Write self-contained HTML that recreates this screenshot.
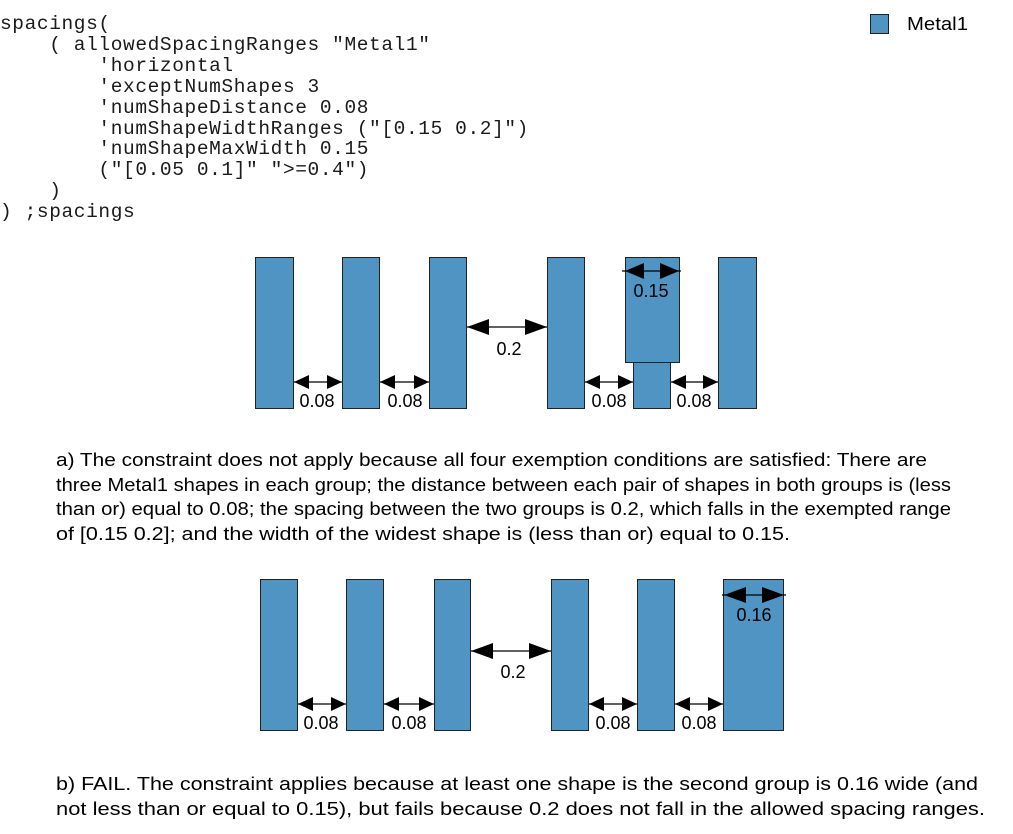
<!DOCTYPE html>
<html><head><meta charset="utf-8"><style>
html,body{margin:0;padding:0;background:#fff;}
svg{display:block;}
.m{font-family:"Liberation Mono",monospace;font-size:19.5px;letter-spacing:0.6px;fill:#1a1a1a;white-space:pre;}
.s{font-family:"Liberation Sans",sans-serif;font-size:18.5px;fill:#000;}
.l{font-family:"Liberation Sans",sans-serif;font-size:18px;fill:#000;text-anchor:middle;}
rect.b{fill:#4f94c2;stroke:#222;stroke-width:1;}
</style></head><body>
<svg width="1013" height="834" viewBox="0 0 1013 834" xmlns="http://www.w3.org/2000/svg">
<g class="m">
<text x="0" y="29" xml:space="preserve">spacings(</text>
<text x="0" y="50" xml:space="preserve">    ( allowedSpacingRanges "Metal1"</text>
<text x="0" y="71" xml:space="preserve">        'horizontal</text>
<text x="0" y="92" xml:space="preserve">        'exceptNumShapes 3</text>
<text x="0" y="113" xml:space="preserve">        'numShapeDistance 0.08</text>
<text x="0" y="134" xml:space="preserve">        'numShapeWidthRanges ("[0.15 0.2]")</text>
<text x="0" y="154" xml:space="preserve">        'numShapeMaxWidth 0.15</text>
<text x="0" y="175" xml:space="preserve">        ("[0.05 0.1]" "&gt;=0.4")</text>
<text x="0" y="196" xml:space="preserve">    )</text>
<text x="0" y="217" xml:space="preserve">) ;spacings</text>
</g>
<rect class="b" x="870.5" y="14.5" width="18" height="19"/>
<text class="s" x="907" y="30" textLength="61" lengthAdjust="spacingAndGlyphs">Metal1</text>

<!-- diagram a -->
<rect class="b" x="255.5" y="257.5" width="38" height="151"/>
<rect class="b" x="342.5" y="257.5" width="37" height="151"/>
<rect class="b" x="429.5" y="257.5" width="37" height="151"/>
<rect class="b" x="547.5" y="257.5" width="37" height="151"/>
<rect class="b" x="633.5" y="362.5" width="37" height="46"/>
<rect class="b" x="625.5" y="257.5" width="54" height="105"/>
<rect class="b" x="718.5" y="257.5" width="38" height="151"/>

<g stroke="#000" stroke-width="1.2">
<line x1="294" y1="382" x2="342" y2="382"/>
<line x1="380" y1="382" x2="429" y2="382"/>
<line x1="585" y1="382" x2="633" y2="382"/>
<line x1="671" y1="382" x2="718" y2="382"/>
<line x1="467" y1="327" x2="547" y2="327"/>
<line x1="622" y1="271" x2="681" y2="271"/>
</g>
<g fill="#000">
<polygon points="294,382 309,375 309,389"/><polygon points="342,382 327,375 327,389"/>
<polygon points="380,382 395,375 395,389"/><polygon points="429,382 414,375 414,389"/>
<polygon points="585,382 600,375 600,389"/><polygon points="633,382 618,375 618,389"/>
<polygon points="671,382 686,375 686,389"/><polygon points="718,382 703,375 703,389"/>
<polygon points="467,327 489,319 489,335"/><polygon points="547,327 525,319 525,335"/>
<polygon points="625,271 644,263 644,279"/><polygon points="679,271 660,263 660,279"/>
</g>
<text class="l" x="317" y="407">0.08</text>
<text class="l" x="405" y="407">0.08</text>
<text class="l" x="609" y="407">0.08</text>
<text class="l" x="694" y="407">0.08</text>
<text class="l" x="509" y="355">0.2</text>
<text class="l" x="651" y="297">0.15</text>

<text class="s" x="56" y="466" textLength="871" lengthAdjust="spacingAndGlyphs">a) The constraint does not apply because all four exemption conditions are satisfied: There are</text>
<text class="s" x="56" y="491" textLength="895" lengthAdjust="spacingAndGlyphs">three Metal1 shapes in each group; the distance between each pair of shapes in both groups is (less</text>
<text class="s" x="56" y="515" textLength="895" lengthAdjust="spacingAndGlyphs">than or) equal to 0.08; the spacing between the two groups is 0.2, which falls in the exempted range</text>
<text class="s" x="56" y="540" textLength="734" lengthAdjust="spacingAndGlyphs">of [0.15 0.2]; and the width of the widest shape is (less than or) equal to 0.15.</text>

<!-- diagram b -->
<rect class="b" x="260.5" y="579.5" width="37" height="151"/>
<rect class="b" x="346.5" y="579.5" width="37" height="151"/>
<rect class="b" x="434.5" y="579.5" width="36" height="151"/>
<rect class="b" x="551.5" y="579.5" width="37" height="151"/>
<rect class="b" x="637.5" y="579.5" width="37" height="151"/>
<rect class="b" x="723.5" y="579.5" width="60" height="151"/>
<g stroke="#000" stroke-width="1.2">
<line x1="298" y1="704" x2="346" y2="704"/>
<line x1="384" y1="704" x2="434" y2="704"/>
<line x1="589" y1="704" x2="637" y2="704"/>
<line x1="675" y1="704" x2="723" y2="704"/>
<line x1="471" y1="651" x2="551" y2="651"/>
<line x1="722" y1="595" x2="786" y2="595"/>
</g>
<g fill="#000">
<polygon points="298,704 313,697 313,711"/><polygon points="346,704 331,697 331,711"/>
<polygon points="384,704 399,697 399,711"/><polygon points="434,704 419,697 419,711"/>
<polygon points="589,704 604,697 604,711"/><polygon points="637,704 622,697 622,711"/>
<polygon points="675,704 690,697 690,711"/><polygon points="723,704 708,697 708,711"/>
<polygon points="471,651 493,643 493,659"/><polygon points="551,651 529,643 529,659"/>
<polygon points="724,595 746,587 746,603"/><polygon points="784,595 762,587 762,603"/>
</g>
<text class="l" x="321" y="729">0.08</text>
<text class="l" x="409" y="729">0.08</text>
<text class="l" x="613" y="729">0.08</text>
<text class="l" x="699" y="729">0.08</text>
<text class="l" x="513" y="678">0.2</text>
<text class="l" x="754" y="621">0.16</text>

<text class="s" x="56" y="790" textLength="922" lengthAdjust="spacingAndGlyphs">b) FAIL. The constraint applies because at least one shape is the second group is 0.16 wide (and</text>
<text class="s" x="56" y="815" textLength="929" lengthAdjust="spacingAndGlyphs">not less than or equal to 0.15), but fails because 0.2 does not fall in the allowed spacing ranges.</text>
</svg>
</body></html>
